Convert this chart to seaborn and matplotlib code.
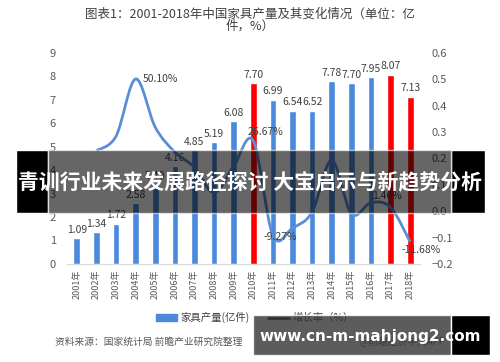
import numpy as np
import pandas as pd
import matplotlib
matplotlib.use("Agg")
import matplotlib.pyplot as plt
from matplotlib.patches import Rectangle, PathPatch, Patch
from matplotlib.lines import Line2D
from matplotlib.path import Path
import seaborn as sns

# data
years = [f"{y}年" for y in range(2001, 2019)]
output = [1.09, 1.34, 1.72, 2.58, 3.40, 4.16, 4.85, 5.19, 6.08, 7.70,
          6.99, 6.54, 6.52, 7.78, 7.70, 7.95, 8.07, 7.13]
growth = [0.229, 0.284, 0.501, 0.318, 0.224, 0.166, 0.070, 0.171, 0.2667,
          -0.0927, -0.064, -0.003, 0.193, -0.010, 0.032, 0.0146, -0.1168]
highlight = ["2010年", "2017年", "2018年"]
growth_labels = {"2004年": "50.10%", "2010年": "26.67%", "2011年": "-9.27%",
                 "2017年": "1.46%", "2018年": "-11.68%"}

BLUE = "#4a89dc"
RED = "#ff0000"
LINE = "#5b8ed6"
TXT = "#404040"

sns.set_style("white")
plt.rcParams['font.family'] = ['Noto Sans CJK SC', 'DejaVu Sans']

df = pd.DataFrame({"year": years, "output": output})
palette = [RED if y in highlight else BLUE for y in years]

fig = plt.figure(figsize=(5, 3.62), dpi=100)
ax = fig.add_axes([0.134, 0.271, 0.706, 0.583])
sns.barplot(data=df, x="year", y="output", hue="year", palette=palette,
            legend=False, width=0.34, saturation=1, ax=ax)
ax.set_ylim(0, 9)
ax.set_xlim(-0.5, len(years) - 0.5)
ax.set_yticks(range(0, 10))
ax.set_xlabel("")
ax.set_ylabel("")
ax.tick_params(axis="y", length=0, labelsize=8, labelcolor="#595959", pad=8)
ax.tick_params(axis="x", length=0, labelsize=6.5, labelcolor="#595959",
               rotation=90, pad=4)
for s in ["top", "right", "left"]:
    ax.spines[s].set_visible(False)
ax.spines["bottom"].set_color("#d9d9d9")

for i, v in enumerate(output):
    ax.text(i, v + 0.15, f"{v:.2f}", ha="center", va="bottom",
            fontsize=7.5, color=TXT)

# growth rate line, smoothed with bezier segments through the points
ax2 = ax.twinx()
ax2.set_ylim(-0.2, 0.6)
ax2.set_yticks(np.round(np.arange(-0.2, 0.61, 0.1), 1))
ax2.tick_params(axis="y", length=0, labelsize=8, labelcolor="#595959", pad=8)
for s in ["top", "right", "left", "bottom"]:
    ax2.spines[s].set_visible(False)

pts = np.column_stack([np.arange(1, len(years)), growth])
ext = np.vstack([pts[0], pts, pts[-1]])
verts = [tuple(pts[0])]
codes = [Path.MOVETO]
for k in range(len(pts) - 1):
    p0, p1, p2, p3 = ext[k], ext[k + 1], ext[k + 2], ext[k + 3]
    verts += [tuple(p1 + (p2 - p0) / 6), tuple(p2 - (p3 - p1) / 6), tuple(p2)]
    codes += [Path.CURVE4] * 3
ax2.add_patch(PathPatch(Path(verts, codes), facecolor="none",
                        edgecolor=LINE, lw=2, zorder=3))

offsets = {"2004年": (0.35, 0.0, "left", "center"),
           "2010年": (0.6, 0.015, "center", "bottom"),
           "2011年": (0.4, -0.005, "center", "center"),
           "2017年": (-0.2, 0.025, "center", "bottom"),
           "2018年": (0.55, -0.03, "center", "center")}
for y, lab in growth_labels.items():
    i = years.index(y)
    dx, dy, ha, va = offsets[y]
    ax2.text(i + dx, growth[i - 1] + dy, lab, ha=ha, va=va,
             fontsize=7.5, color=TXT)

fig.text(0.5, 0.978, "图表1：2001-2018年中国家具产量及其变化情况（单位：亿\n件，%）",
         ha="center", va="top", fontsize=9, color=TXT, linespacing=0.9)

handles = [Patch(color=BLUE, label="家具产量(亿件)"),
           Line2D([0], [0], color="#1f3864", lw=2, label="增长率（%）")]
fig.legend(handles=handles, loc="center", bbox_to_anchor=(0.51, 0.122), ncol=2,
           frameon=False, fontsize=7.5, handlelength=2.0, handletextpad=0.3,
           columnspacing=1.8, labelcolor=TXT)

fig.text(0.11, 0.055, "资料来源：国家统计局 前瞻产业研究院整理", fontsize=7,
         color="#595959", va="center", style="italic")
fig.text(0.72, 0.055, "@前瞻经济学人APP", fontsize=7, color="#595959",
         va="center")

# overlay banner
def fig_box(x0, y0, x1, y1, color, alpha):
    fig.patches.append(Rectangle((x0 / 500, 1 - y1 / 362), (x1 - x0) / 500,
                                 (y1 - y0) / 362, transform=fig.transFigure,
                                 facecolor=color, alpha=alpha, zorder=10))

fig_box(16, 150, 48, 213, "black", 1)
fig_box(451, 150, 485, 213, "black", 1)
fig_box(48, 150, 451, 213, "black", 0.6)
fig.text(0.5, 1 - 182 / 362, "青训行业未来发展路径探讨 大宝启示与新趋势分析",
         ha="center", va="center", fontsize=15, fontweight="bold",
         color="white", zorder=11)

fig_box(253, 315, 451, 355, "#333333", 0.8)
fig_box(451, 315, 490, 355, "black", 1)
fig.text(370 / 500, 1 - 336 / 362, "www.cn-m-mahjong2.com", ha="center",
         va="center", fontsize=11, fontweight="bold", color="white",
         family="DejaVu Sans", zorder=11)

fig.savefig("out.png", dpi=100)
